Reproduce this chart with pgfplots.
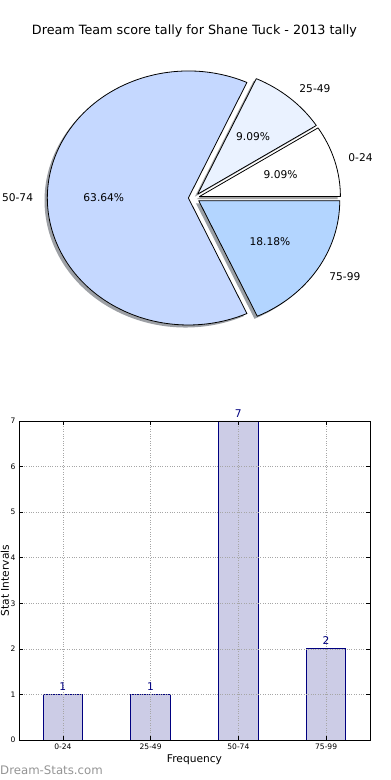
\documentclass[border=0pt]{standalone}
\usepackage{fontspec}
\setmainfont{DejaVu Sans}
\usepackage{pgfplots}
\pgfplotsset{compat=1.18}

\definecolor{pieA}{RGB}{255,255,255}
\definecolor{pieB}{RGB}{234,242,255}
\definecolor{pieC}{RGB}{197,216,255}
\definecolor{pieD}{RGB}{179,213,255}
\definecolor{barfill}{RGB}{204,204,230}
\definecolor{barline}{RGB}{0,0,128}

% pie values (counts)
\def\vA{1}\def\vB{1}\def\vC{7}\def\vD{2}
\pgfmathsetmacro\tot{\vA+\vB+\vC+\vD}
\pgfmathsetmacro\sA{0}
\pgfmathsetmacro\eA{360*\vA/\tot}
\pgfmathsetmacro\sB{\eA}
\pgfmathsetmacro\eB{\eA+360*\vB/\tot}
\pgfmathsetmacro\sC{\eB}
\pgfmathsetmacro\eC{\eB+360*\vC/\tot}
\pgfmathsetmacro\sD{\eC}
\pgfmathsetmacro\eD{360}
\def\expl{0.04}
\newcommand\mkwedge[1]{%
  \pgfmathsetmacro\tmpm{(\csname s#1\endcsname+\csname e#1\endcsname)/2}%
  \expandafter\let\csname m#1\endcsname\tmpm
  \pgfmathsetmacro\tmp{\expl*cos(\tmpm)}\expandafter\let\csname ox#1\endcsname\tmp
  \pgfmathsetmacro\tmp{\expl*sin(\tmpm)}\expandafter\let\csname oy#1\endcsname\tmp
  \pgfmathsetmacro\tmp{\expl*cos(\tmpm)-0.02}\expandafter\let\csname sx#1\endcsname\tmp
  \pgfmathsetmacro\tmp{\expl*sin(\tmpm)-0.02}\expandafter\let\csname sy#1\endcsname\tmp
  \pgfmathsetmacro\tmp{\expl*cos(\tmpm)+1.1*cos(\tmpm)}\expandafter\let\csname lx#1\endcsname\tmp
  \pgfmathsetmacro\tmp{\expl*sin(\tmpm)+1.1*sin(\tmpm)}\expandafter\let\csname ly#1\endcsname\tmp
  \pgfmathsetmacro\tmp{\expl*cos(\tmpm)+0.6*cos(\tmpm)}\expandafter\let\csname px#1\endcsname\tmp
  \pgfmathsetmacro\tmp{\expl*sin(\tmpm)+0.6*sin(\tmpm)}\expandafter\let\csname py#1\endcsname\tmp
  \pgfmathsetmacro\tmp{100*\csname v#1\endcsname/\tot}\expandafter\let\csname p#1\endcsname\tmp
}
\mkwedge{A}\mkwedge{B}\mkwedge{C}\mkwedge{D}

\newcommand\wedgepath[4]{(axis cs:#1,#2) -- ++(axis direction cs:{cos(#3)},{sin(#3)}) arc[start angle=#3, end angle=#4, x radius=141bp, y radius=127bp] -- cycle}
\newcommand\lab{\fontsize{10.7}{12}\selectfont}
\newcommand\pct[1]{\pgfmathprintnumber[fixed,precision=2,fixed zerofill,assume math mode=true]{#1}\%}

\begin{document}
\begin{tikzpicture}[x=1bp,y=1bp]
\useasboundingbox (0,0) rectangle (390,780);
\coordinate (pieO) at (194,582);
\coordinate (barSW) at (19,40);

\node[anchor=base, font=\fontsize{12.8}{15}\selectfont, inner sep=0] at (194.5,745.3) {Dream Team score tally for Shane Tuck - 2013 tally};

\begin{axis}[x=141bp, y=127bp, hide axis, anchor=origin, at={(pieO)},
  xmin=-1.3, xmax=1.3, ymin=-1.1, ymax=1.1, clip=false]
  % shadows
  \fill[pieA!30!black, opacity=0.5] \wedgepath{\sxA}{\syA}{\sA}{\eA};
  \fill[pieB!30!black, opacity=0.5] \wedgepath{\sxB}{\syB}{\sB}{\eB};
  \fill[pieC!30!black, opacity=0.5] \wedgepath{\sxC}{\syC}{\sC}{\eC};
  \fill[pieD!30!black, opacity=0.5] \wedgepath{\sxD}{\syD}{\sD}{\eD};
  % wedges
  \filldraw[fill=pieA, draw=black, line width=0.8bp, line join=round] \wedgepath{\oxA}{\oyA}{\sA}{\eA};
  \filldraw[fill=pieB, draw=black, line width=0.8bp, line join=round] \wedgepath{\oxB}{\oyB}{\sB}{\eB};
  \filldraw[fill=pieC, draw=black, line width=0.8bp, line join=round] \wedgepath{\oxC}{\oyC}{\sC}{\eC};
  \filldraw[fill=pieD, draw=black, line width=0.8bp, line join=round] \wedgepath{\oxD}{\oyD}{\sD}{\eD};
  % labels
  \node[anchor=west, font=\lab, inner sep=0] at (axis cs:\lxA,\lyA) {0-24};
  \node[anchor=west, font=\lab, inner sep=0] at (axis cs:\lxB,\lyB) {25-49};
  \node[anchor=east, font=\lab, inner sep=0] at (axis cs:\lxC,\lyC) {50-74};
  \node[anchor=west, font=\lab, inner sep=0] at (axis cs:\lxD,\lyD) {75-99};
  \node[font=\lab] at (axis cs:\pxA,\pyA) {\pct{\pA}};
  \node[font=\lab] at (axis cs:\pxB,\pyB) {\pct{\pB}};
  \node[font=\lab] at (axis cs:\pxC,\pyC) {\pct{\pC}};
  \node[font=\lab] at (axis cs:\pxD,\pyD) {\pct{\pD}};
\end{axis}

\begin{axis}[at={(barSW)}, anchor=south west, scale only axis,
  width=351bp, height=319bp,
  xmin=-0.5, xmax=3.5, ymin=0, ymax=7,
  ybar, bar width=0.45,
  xtick={0,1,2,3}, xticklabels={0-24,25-49,50-74,75-99},
  ytick={0,1,2,3,4,5,6,7},
  tick align=inside, tick pos=both, major tick length=4bp,
  tick style={line width=0.6bp, black},
  grid=major, grid style={dotted, black!35, line width=0.7bp},
  axis line style={line width=0.8bp},
  axis on top,
  ticklabel style={font=\fontsize{7.6}{9}\selectfont},
  /pgf/number format/assume math mode=true,
  xlabel={Frequency}, ylabel={Stat Intervals},
  label style={font=\lab},
  xlabel style={at={(axis description cs:0.5,-0.063)}, anchor=center},
  ylabel style={at={(axis description cs:-0.0399,0.5)}, anchor=center, inner sep=0pt},
  clip=false,
  nodes near coords,
  nodes near coords style={font=\lab, text=barline, anchor=south, inner sep=3.5bp},
]
\addplot[fill=barfill, draw=barline, line width=0.8bp] coordinates {(0,1) (1,1) (2,7) (3,2)};
\end{axis}

\node[anchor=west, font=\fontsize{11.8}{14}\selectfont, text=black!42, inner sep=0] at (0,10) {Dream-Stats.com};
\end{tikzpicture}
\end{document}
